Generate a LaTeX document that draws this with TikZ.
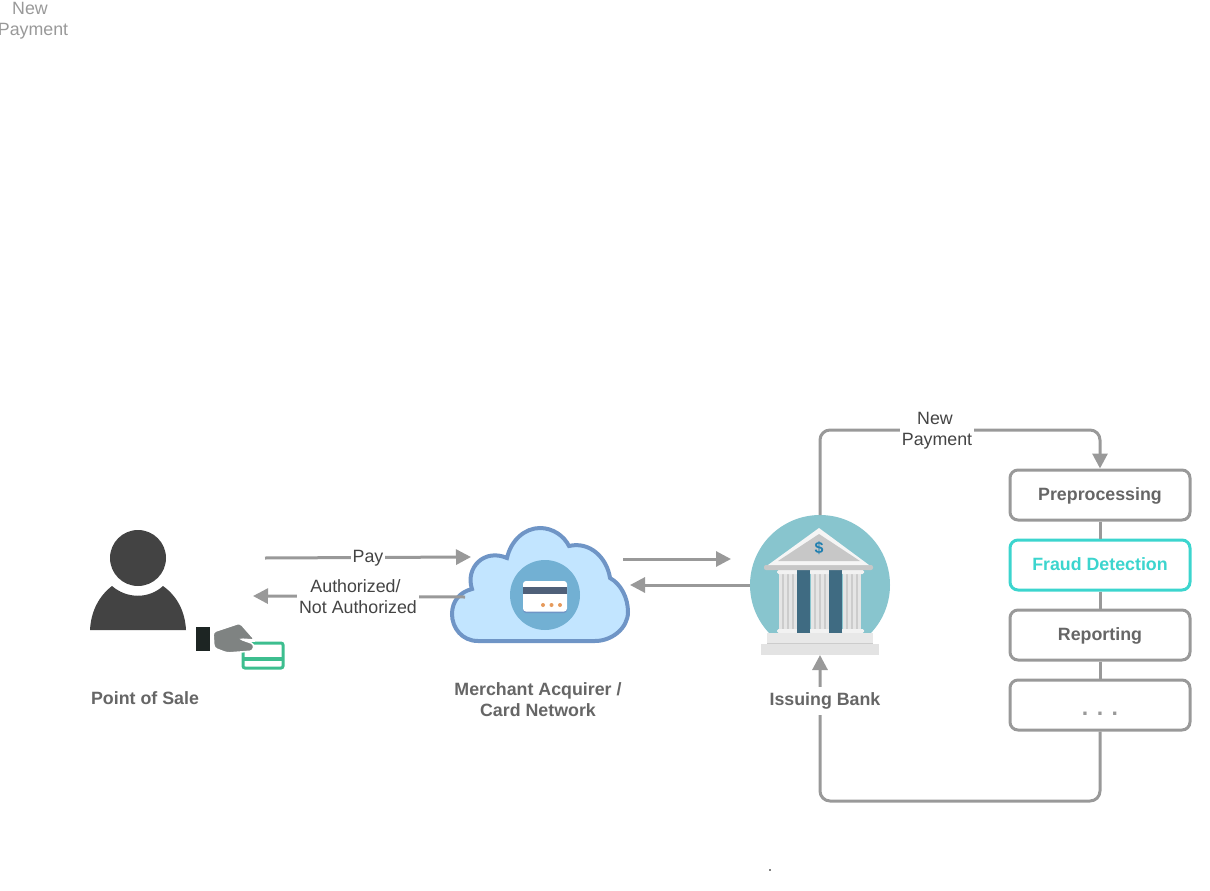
\documentclass[tikz,border=0pt]{standalone}
\usepackage{fontspec}
\setmainfont{Liberation Sans}
\usetikzlibrary{arrows.meta}
\definecolor{flowgray}{HTML}{999999}
\definecolor{labelgray}{HTML}{666666}
\definecolor{textdark}{HTML}{444444}
\definecolor{fraudteal}{HTML}{3CD5CE}
\definecolor{personfill}{HTML}{434343}
\definecolor{cardgreen}{HTML}{3DBE8F}
\definecolor{handgray}{HTML}{7F8382}
\definecolor{cuffdark}{HTML}{1D2523}
\definecolor{cloudfill}{HTML}{C2E5FF}
\definecolor{cloudedge}{HTML}{6F95C6}
\definecolor{cloudspot}{HTML}{72B0D3}
\definecolor{cardstripe}{HTML}{4F6079}
\definecolor{carddot}{HTML}{E69A5C}
\definecolor{bankbg}{HTML}{88C5CE}
\definecolor{bankblue}{HTML}{3F6B82}
\definecolor{banksign}{HTML}{1F7FB0}
\tikzset{
   flow/.style={draw=flowgray,line width=3},
   flowarrow/.style={flow,-{Triangle[length=15,width=15]}},
   stagebox/.style={draw=flowgray,line width=3,rounded corners=8,minimum width=180,minimum height=50,
      text=labelgray,font=\fontsize{17.8}{21}\selectfont\bfseries,fill=white,text height=14,text depth=4},
   iconlabel/.style={text=labelgray,font=\fontsize{17.8}{21}\selectfont\bfseries,align=center,fill=white,inner sep=2},
   flowlabel/.style={text=textdark,font=\fontsize{17.8}{21}\selectfont,align=center,fill=white,inner sep=2}
}
\begin{document}
\begin{tikzpicture}[x=1pt,y=-1pt]
   \useasboundingbox (0,0) rectangle (1210,891);
   \node[text=flowgray,font=\fontsize{17.8}{21}\selectfont,align=center,inner sep=0] (strayLabel) at (33,21) {\hspace*{-6pt}New\\Payment};
   \fill (770,870) circle (0.8);

   \begin{scope}
    \fill[personfill] (138,558) circle (28);
    \fill[personfill] (90,630) .. controls (91,611) and (99,596) .. (112,586)
       .. controls (127,599) and (149,599) .. (163,586)
       .. controls (177,596) and (185,611) .. (186,630) -- cycle;
    \draw[cardgreen,line width=3,rounded corners=2] (243,643) rectangle (283,668);
    \draw[cardgreen,line width=4] (243,658.5) -- (283,658.5);
    \fill[cuffdark] (196,627) rectangle (210,651);
    \fill[white] (240,634) rectangle (255,642);
    \draw[white,line width=1.5,fill=handgray,rounded corners=3] (213,632) -- (240,623) -- (255,640) -- (240,639) -- (254,644) -- (253,651) -- (227,653) -- (214,648) -- cycle;
   \end{scope}
   \coordinate (posOut) at (265,558);
   \coordinate (posIn) at (253,596);
   \node[iconlabel] (posLabel) at (145,698) {Point of Sale};

   \begin{scope}
    \draw[cloudedge,fill=cloudfill,line width=4] (478,641) .. controls (462,641) and (452,628) .. (452,614)
       .. controls (452,601) and (460,592) .. (472,589)
       .. controls (465,568) and (484,548) .. (507,558)
       .. controls (511,540) and (525,528) .. (540,528)
       .. controls (553,528) and (564,536) .. (569,546)
       .. controls (590,541) and (607,558) .. (610,578)
       .. controls (621,584) and (628,598) .. (628,612)
       .. controls (628,628) and (612,641) .. (595,641) -- cycle;
    \fill[cloudspot] (545,595) circle (35);
    \fill[cloudedge,rounded corners=3] (523,583) rectangle (567,613);
    \fill[white,rounded corners=3] (523,581) rectangle (567,611.5);
    \fill[cardstripe] (523,587) rectangle (567,594);
    \foreach \x in {543,551.5,560} {
     \fill[carddot] (\x,605) circle (2);
    }
   \end{scope}
   \coordinate (cloudIn) at (471,557);
   \coordinate (cloudOut) at (465,597);
   \coordinate (cloudEast) at (623,559);
   \coordinate (cloudBack) at (630,585);
   \node[iconlabel] (cloudLabel) at (538,699.5) {Merchant Acquirer /\\Card Network};

   \begin{scope}
    \clip (740,500) rectangle (900,633);
    \node[circle,fill=bankbg,minimum size=140,inner sep=0] (bank) at (820,585) {};
   \end{scope}
   \coordinate (bankTop) at (820,515);
   \coordinate (bankIn) at (731,559);
   \coordinate (bankWest) at (750,585);
   \coordinate (bankFoot) at (820,655);
   \begin{scope}
    \foreach \x in {779,811,843} {
     \fill[black!10] (\x,572) rectangle (\x+18,631);
     \foreach \d in {4,9,14} {
      \fill[black!20] (\x+\d-0.7,572) rectangle (\x+\d+0.7,631);
     }
     \fill[white!95!black,rounded corners=1.5] (\x-2,570) rectangle (\x+21,574);
     \fill[white!95!black,rounded corners=1.5] (\x-2,629) rectangle (\x+21,633);
    }
    \foreach \x in {797,829} {
     \fill[bankblue] (\x,570) rectangle (\x+13,633);
    }
    \fill[black!22,rounded corners=2] (764,565) rectangle (873,570);
    \fill[white!96!black] (819,528) -- (869,565) -- (768,565) -- cycle;
    \fill[black!22] (819,534) -- (860,561) -- (778,561) -- cycle;
    \fill[black!9] (767,633) rectangle (873,643);
    \fill[black!20] (767,643) rectangle (873,644);
    \fill[black!11] (761,644) rectangle (879,655);
    \node[text=banksign,font=\fontsize{16}{16}\selectfont\bfseries,inner sep=0] (bankSign) at (819,548) {\$};
   \end{scope}

   \node[stagebox] (prep) at (1100,495) {Preprocessing};
   \node[stagebox,draw=fraudteal,text=fraudteal] (fraud) at (1100,565) {Fraud Detection};
   \node[stagebox] (report) at (1100,635) {Reporting};
   \node[stagebox,text=flowgray,font=\fontsize{23}{23}\selectfont\bfseries,text height=20,text depth=0] (more) at (1100,705) {. . .};
   \foreach \a/\b in {prep/fraud,fraud/report,report/more} {
    \draw[flow] (\a) -- (\b);
   }

   \coordinate (payTurn) at (937,430);
   \coordinate (backTurn) at (820,801);
   \draw[flowarrow,rounded corners=10] (bankTop) |- (payTurn) -| (prep.north);
   \draw[flowarrow,rounded corners=10] (more.south) |- (backTurn) -- (bankFoot);
   \draw[flowarrow] (posOut) -- (cloudIn);
   \draw[flowarrow] (cloudOut) -- (posIn);
   \draw[flowarrow] (cloudEast) -- (bankIn);
   \draw[flowarrow] (bankWest) -- (cloudBack);

   \node[flowlabel] (payLabel) at (368,558) {Pay};
   \node[flowlabel] (authLabel) at (358,596.5) {\hspace*{-5pt}Authorized/\\Not Authorized};
   \node[flowlabel] (newLabel) at (937,431) {\hspace*{-4pt}New\\Payment};
   \node[iconlabel,minimum height=28] (bankLabel) at (825,701) {Issuing Bank};
\end{tikzpicture}
\end{document}
